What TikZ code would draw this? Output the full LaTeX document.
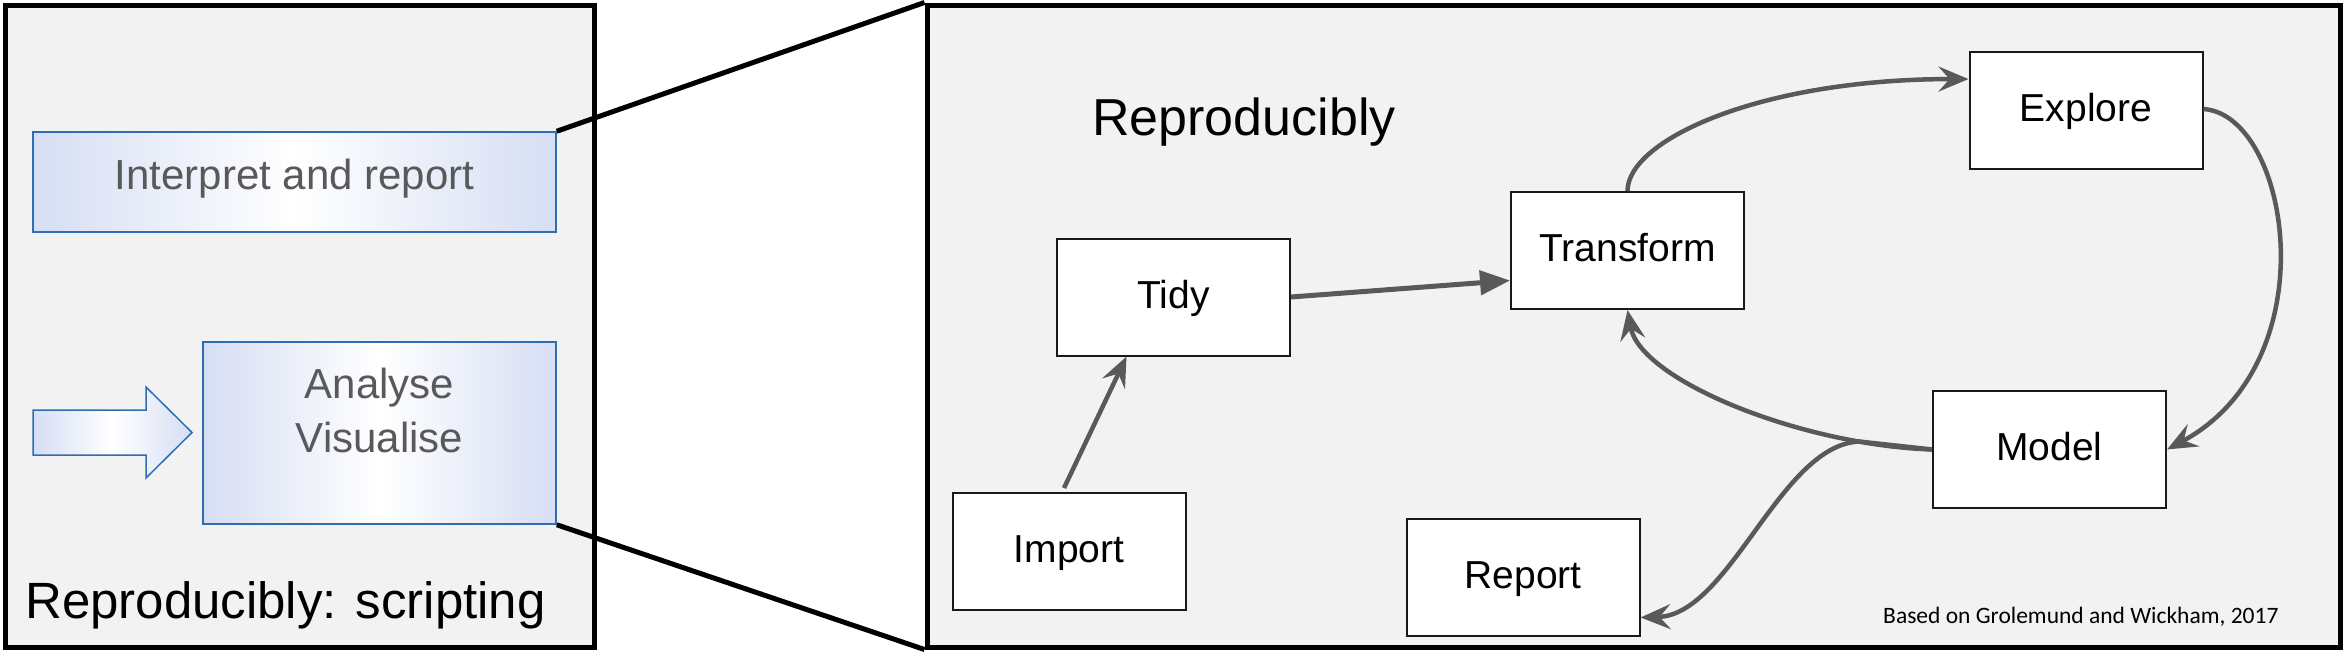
\documentclass[tikz,border=0pt]{standalone}
\usepackage{fontspec}
\setmainfont{Liberation Sans}
\newfontfamily\carlitofont{Carlito}
\usetikzlibrary{arrows.meta,calc}
\definecolor{panelbg}{HTML}{F2F2F2}
\definecolor{arrgray}{HTML}{595959}
\definecolor{txtgray}{HTML}{595959}
\definecolor{bluefill}{HTML}{D6DEF4}
\definecolor{blueline}{HTML}{2E6DB4}
\begin{document}
\begin{tikzpicture}[x=1pt,y=-1pt,
  panel/.style={draw=black, line width=5pt, fill=panelbg, inner sep=0pt},
  bluebox/.style={draw=blueline, line width=1.5pt, left color=bluefill, right color=bluefill, middle color=white, inner sep=0pt, font=\fontsize{42}{50}\selectfont, text=txtgray},
  stepbox/.style={draw=black!90, line width=2pt, fill=white, minimum width=233pt, minimum height=117pt, inner sep=0pt, font=\fontsize{39}{47}\selectfont, text height=28pt, text depth=6pt},
  conn/.style={draw=arrgray, line width=4.5pt, -{Stealth[length=30pt,width=25pt,inset=11pt]}},
  zoomline/.style={draw=black, line width=5pt}
]
\useasboundingbox (0,0) rectangle (2344,651);

% panels
\node[panel, minimum width=589pt, minimum height=642pt] (lp) at (299.5,326) {};
\node[panel, minimum width=1413pt, minimum height=642pt] (rp) at (1633.5,326) {};

% left panel content
\node[bluebox, minimum width=523pt, minimum height=100pt, text height=30pt, text depth=15pt] (interp) at (294.5,182) {Interpret and report};
\node[bluebox, minimum width=353pt, minimum height=182pt] (ana) at (379.5,433) {};
\node[anchor=base, inner sep=0pt, font=\fontsize{42}{50}\selectfont, text=txtgray] (ana1) at (379.5,398) {Analyse};
\node[anchor=base, inner sep=0pt, font=\fontsize{42}{50}\selectfont, text=txtgray] (ana2) at (379.5,452) {Visualise};
\draw[draw=blueline, line width=1.5pt, left color=bluefill, right color=bluefill, middle color=white]
  (33,410) -- (146,410) -- (146,387) -- (192,432.5) -- (146,478) -- (146,455) -- (33,455) -- cycle;
\node[anchor=base west, inner sep=0pt, font=\fontsize{51}{60}\selectfont] (lt) at (25,618) {Reproducibly: scripting};

% zoom lines
\draw[zoomline] (interp.north east) -- (rp.north west);
\draw[zoomline] (ana.south east) -- (rp.south west);

% right panel content
\node[anchor=base west, inner sep=0pt, font=\fontsize{52}{62}\selectfont] (rt) at (1092,135) {Reproducibly};
\node[anchor=base west, inner sep=0pt, font=\carlitofont\fontsize{23.5}{28}\selectfont] (cite) at (1883,623) {Based on Grolemund and Wickham, 2017};

\node[stepbox] (explore) at (2086,110) {Explore};
\node[stepbox] (transform) at (1627.5,250.5) {Transform};
\node[stepbox] (tidy) at (1173.5,297) {Tidy};
\node[stepbox] (import) at (1069,551.5) {Import};
\node[stepbox] (report) at (1523,577.5) {Report};
\node[stepbox] (model) at (2049.5,449.5) {Model};

% connectors
\draw[conn] ([xshift=-5pt,yshift=4pt]import.north) -- ([xshift=-47pt]tidy.south);
\draw[conn, line width=5pt, -{Triangle[length=30pt,width=24pt]}] (tidy.east) -- ([yshift=-30pt]transform.west);
\draw[conn] (transform.north) .. controls (1627.5,140) and (1760,79) .. ($(explore.north west)!0.24!(explore.south west)$);
\draw[conn] ([yshift=1pt]explore.east) .. controls (2290,115) and (2330,362) .. (model.east);
\draw[conn] (model.west) .. controls (1800,445) and (1640,380) .. (transform.south) coordinate[pos=0.18] (br);
\draw[conn] (model.west) -- (br) .. controls (1780,445) and (1730,615) .. ([yshift=-40pt]report.east);
\end{tikzpicture}
\end{document}
